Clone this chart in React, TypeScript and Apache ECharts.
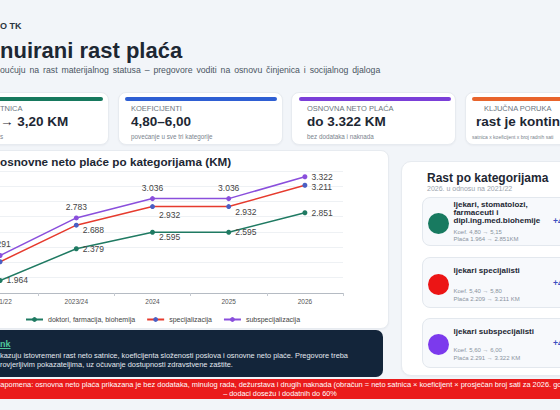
import React, { useEffect, useRef } from "react";
import * as echarts from "echarts";

const FONT = "'Liberation Sans', Arial, sans-serif";

const categories = ["2021/22", "2023/24", "2024", "2025", "2026"];
const seriesNames = ["doktori, farmacija, biohemija", "specijalizacija", "subspecijalizacija"];
const doktori = [1964, 2379, 2595, 2595, 2851];
const specijalizacija = [2209, 2688, 2932, 2932, 3211];
const subspecijalizacija = [2291, 2783, 3036, 3036, 3322];
const yTicks = { min: 1800, max: 3400, interval: 200 };

const kpiLabels = ["TNICA", "KOEFICIJENTI", "OSNOVNA NETO PLAĆA", "KLJUČNA PORUKA"];
const kpiValues = ["→ 3,20 KM", "4,80–6,00", "do 3.322 KM", "rast je kontinuiran"];
const kpiNotes = ["s", "povećanje u sve tri kategorije", "bez dodataka i naknada", "satnica x koeficijent x broj radnih sati"];

const catTitles = [
  ["ljekari, stomatolozi,", "farmaceuti i", "dipl.ing.med.biohemije"],
  ["ljekari specijalisti"],
  ["ljekari subspecijalisti"],
];
const catKoef = ["Koef. 4,80 → 5,15", "Koef. 5,40 → 5,80", "Koef. 5,60 → 6,00"];
const catPlaca = ["Plaća 1.964 → 2.851KM", "Plaća 2.209 → 3.211 KM", "Plaća 2.291 → 3.322 KM"];
const catGrowth = ["+45%", "+45%", "+45%"];

const GREEN = "#1f7a62";
const RED = "#e63b2e";
const BLUE = "#4a5fc4";
const PURPLE = "#8a4fdc";

const fmt = (v: number) => `${Math.floor(v / 1000)}.${String(v % 1000).padStart(3, "0")}`;

function Txt(props: {
  x: number; y: number; size: number; weight?: number; color: string; lh?: number; children: React.ReactNode; style?: React.CSSProperties;
}) {
  const { x, y, size, weight = 400, color, children, style, lh = 1.2 } = props;
  return (
    <div
      style={{
        position: "absolute",
        left: x,
        top: y - (size * lh) / 2,
        fontSize: size,
        lineHeight: `${size * lh}px`,
        fontWeight: weight,
        color,
        whiteSpace: "nowrap",
        ...style,
      }}
    >
      {children}
    </div>
  );
}

function Box(props: { x: number; y: number; w: number; h: number; style?: React.CSSProperties }) {
  return (
    <div
      style={{
        position: "absolute",
        left: props.x,
        top: props.y,
        width: props.w,
        height: props.h,
        boxSizing: "border-box",
        ...props.style,
      }}
    />
  );
}

export default function App() {
  const ref = useRef<HTMLDivElement>(null);

  useEffect(() => {
    document.body.style.margin = "0";
    const chart = echarts.init(ref.current!, null, { renderer: "svg" });
    const lbl = (position: string, offset?: number[], show = true) => ({
      show,
      position,
      offset: offset || [0, 0],
      distance: 4,
      fontSize: 8.5,
      color: "#444",
      fontFamily: FONT,
      formatter: (p: any) => fmt(p.value),
    });
    const docLabels = [lbl("right"), lbl("right"), lbl("right", [0, 5]), lbl("right"), lbl("right")];
    const specLabels = [lbl("left", [0, 0], false), lbl("right", [0, 5]), lbl("right", [0, 8]), lbl("right", [0, 5]), lbl("right", [0, 2])];
    const subLabels = [lbl("top"), lbl("top"), lbl("top"), lbl("top"), lbl("right")];
    const mk = (name: string, vals: number[], labels: any[], line: string, item: string) => ({
      name,
      type: "line",
      data: vals.map((v, i) => ({ value: v, label: labels[i] })),
      symbol: "circle",
      symbolSize: 5,
      lineStyle: { color: line, width: 1.5 },
      itemStyle: { color: item },
      label: { show: true },
    });
    chart.setOption({
      animation: false,
      textStyle: { fontFamily: FONT },
      grid: { left: 12, right: 47, top: 25.8, bottom: 42 },
      xAxis: {
        type: "category",
        data: categories,
        boundaryGap: true,
        axisLine: { lineStyle: { color: "#b5bbc3" } },
        axisTick: { show: true, length: 3, lineStyle: { color: "#c5cad1" } },
        axisLabel: { fontSize: 6.5, color: "#555", margin: 5, fontFamily: FONT },
      },
      yAxis: {
        type: "value",
        min: yTicks.min,
        max: yTicks.max,
        interval: yTicks.interval,
        axisLabel: { show: false },
        axisLine: { show: false },
        axisTick: { show: false },
        splitLine: { lineStyle: { color: "#eef1f4", width: 1 } },
      },
      legend: {
        left: 70,
        top: 166,
        itemWidth: 17,
        itemHeight: 6,
        itemGap: 11,
        textStyle: { fontSize: 7, color: "#444", fontFamily: FONT },
        data: seriesNames,
      },
      series: [
        mk(seriesNames[0], doktori, docLabels, GREEN, GREEN),
        mk(seriesNames[1], specijalizacija, specLabels, RED, BLUE),
        mk(seriesNames[2], subspecijalizacija, subLabels, PURPLE, PURPLE),
      ],
    });
    return () => chart.dispose();
  }, []);

  const card: React.CSSProperties = {
    background: "#ffffff",
    borderRadius: 8,
    border: "1px solid #e7ebf0",
    boxShadow: "0 1px 2px rgba(20,30,50,0.04)",
  };
  const kpiX = [-56, 118, 291, 465];
  const kpiBar = [[-50, 103], [125, 277], [299, 451], [472, 620]];
  const kpiColors = ["#17795e", "#2f5fd3", "#7b3fd8", "#e8642c"];
  const kpiTextX = [
    [0, 0, 0],
    [131, 131, 131],
    [307, 307, 307],
    [484, 476, 472],
  ];
  const itemTop = [196.7, 256.7, 318.3];
  const itemH = [49, 51.6, 50];
  const circleY = [223.3, 284.3, 344];
  const circleColors = ["#187a60", "#ec1515", "#7c3aed"];
  const titleY = [[205, 213, 221], [270.7], [331.7]];
  const koefY = [231.7, 290.7, 350];
  const placaY = [239.3, 299.3, 358.3];
  const growthY = [221, 283, 343];

  return (
    <div
      style={{
        position: "fixed",
        left: 0,
        top: 0,
        width: 560,
        height: 410,
        overflow: "hidden",
        background: "#f2f5f9",
        fontFamily: FONT,
      }}
    >
      <Txt x={0} y={26.7} size={9} weight={700} color="#2a3440">O TK</Txt>
      <Txt x={0} y={51.5} size={22} weight={700} color="#1d2733">nuirani rast plaća</Txt>
      <Txt x={0} y={70.7} size={8.7} color="#4b5563" style={{ wordSpacing: 1.5 }}>
        oućuju na rast materijalnog statusa – pregovore voditi na osnovu činjenica i socijalnog djaloga
      </Txt>

      {kpiX.map((x, i) => (
        <Box key={"c" + i} x={x} y={92} w={165} h={53} style={card} />
      ))}
      {kpiBar.map((b, i) => (
        <Box key={"b" + i} x={b[0]} y={96.7} w={b[1] - b[0]} h={4} style={{ background: kpiColors[i], borderRadius: 2 }} />
      ))}
      {kpiLabels.map((t, i) => (
        <Txt key={"l" + i} x={kpiTextX[i][0]} y={108.3} size={7.5} color="#6b7580">{t}</Txt>
      ))}
      {kpiValues.map((t, i) => (
        <Txt key={"v" + i} x={kpiTextX[i][1]} y={121.7} size={13.5} weight={700} color="#1d2733">{t}</Txt>
      ))}
      {kpiNotes.map((t, i) => (
        <Txt key={"n" + i} x={kpiTextX[i][2]} y={136.7} size={i === 3 ? 5 : 6.3} color="#7a838d">{t}</Txt>
      ))}

      <Box x={-10} y={150} w={399} h={179} style={card} />
      <Txt x={0} y={161.7} size={11.7} weight={700} color="#1d2733">
        osnovne neto plaće po kategorijama (KM)
      </Txt>
      <div ref={ref} style={{ position: "absolute", left: -50, top: 145, width: 440, height: 190 }} />

      <Box x={-10} y={330} w={393} h={47} style={{ background: "#13253a", borderRadius: 7 }} />
      <Txt x={0} y={344} size={9} weight={700} color="#4fc89b" style={{ textDecoration: "underline" }}>nk</Txt>
      <Txt x={0} y={356.7} size={7.4} color="#e3e9f0">
        kazuju istovremeni rast neto satnice, koeficijenta složenosti poslova i osnovne neto plaće. Pregovore treba
      </Txt>
      <Txt x={0} y={365} size={7.4} color="#e3e9f0">
        rovjerljivim pokazateljima, uz očuvanje dostupnosti zdravstvene zaštite.
      </Txt>

      <Box x={401} y={161} w={200} h={215} style={{ ...card, borderRadius: 10 }} />
      <Txt x={427} y={177.7} size={12} weight={700} color="#1d2733">Rast po kategorijama</Txt>
      <Txt x={427} y={189} size={7} color="#9aa3ad">2026. u odnosu na 2021/22</Txt>
      {itemTop.map((t, i) => (
        <Box key={"it" + i} x={421.7} y={t} w={200} h={itemH[i]} style={{ background: "#f7f9fc", border: "1px solid #e3e8ee", borderRadius: 8 }} />
      ))}
      {circleY.map((cy, i) => (
        <Box key={"ci" + i} x={438.3 - 10.5} y={cy - 10.5} w={21} h={21} style={{ background: circleColors[i], borderRadius: "50%" }} />
      ))}
      {catTitles.map((lines, i) =>
        lines.map((l, j) => (
          <Txt key={"t" + i + j} x={453.5} y={titleY[i][j]} size={8} lh={1} weight={700} color="#1d2733">{l}</Txt>
        ))
      )}
      {catKoef.map((t, i) => (
        <Txt key={"k" + i} x={453.5} y={koefY[i]} size={6} lh={1} color="#8a939e">{t}</Txt>
      ))}
      {catPlaca.map((t, i) => (
        <Txt key={"p" + i} x={453.5} y={placaY[i]} size={6} lh={1} color="#8a939e">{t}</Txt>
      ))}
      {catGrowth.map((t, i) => (
        <Txt key={"g" + i} x={553} y={growthY[i]} size={8.5} weight={700} color="#3d4fc0">{t}</Txt>
      ))}

      <Box x={0} y={379} w={560} h={20} style={{ background: "#ea1b1b" }} />
      <Txt x={-5} y={385} size={7.4} color="#ffffff">
        Napomena: osnovna neto plaća prikazana je bez dodataka, minulog rada, dežurstava i drugih naknada (obračun = neto satnica × koeficijent × prosječan broj sati za 2026. godinu)
      </Txt>
      <div
        style={{
          position: "absolute",
          left: 0,
          width: 560,
          top: 394 - 4.4,
          fontSize: 7.3,
          lineHeight: "8.8px",
          color: "#ffffff",
          textAlign: "center",
          whiteSpace: "nowrap",
        }}
      >
        – dodaci dosežu i dodatnih do 60%
      </div>
    </div>
  );
}
